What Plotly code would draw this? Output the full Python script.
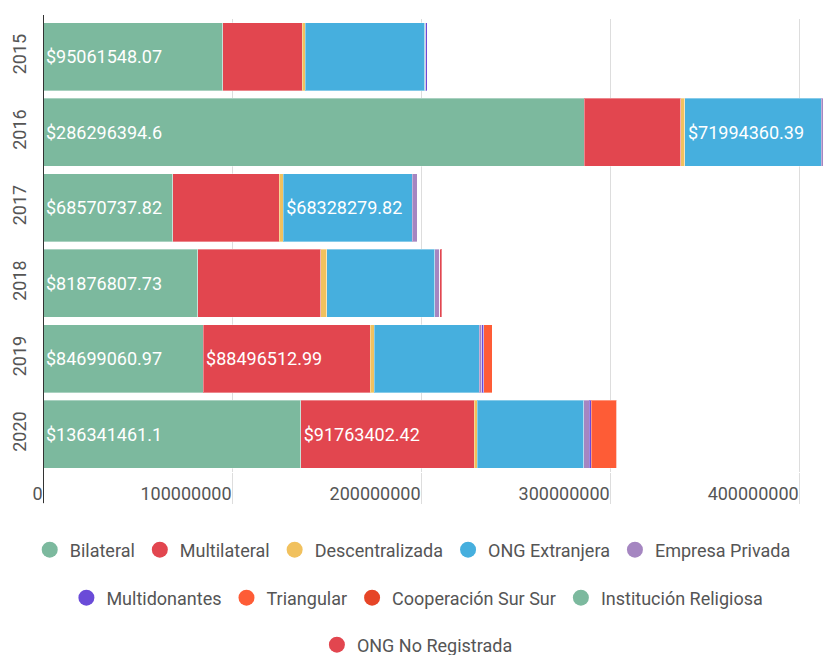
import plotly.graph_objects as go

years = ["2015", "2016", "2017", "2018", "2019", "2020"]

series_names = ["Bilateral", "Multilateral", "Descentralizada", "ONG Extranjera",
                "Empresa Privada", "Multidonantes", "Triangular",
                "Cooperación Sur Sur", "Institución Religiosa", "ONG No Registrada"]

bilateral = [95061548.07, 286296394.6, 68570737.82, 81876807.73, 84699060.97, 136341461.1]
multilateral = [42100000, 51000000, 56400000, 65100000, 88496512.99, 91763402.42]
descentralizada = [1600000, 2300000, 2100000, 3200000, 2000000, 1500000]
ong_extranjera = [63300000, 71994360.39, 68328279.82, 57100000, 55600000, 56400000]
empresa_privada = [300000, 1500000, 2600000, 2700000, 1200000, 3000000]
multidonantes = [900000, 0, 0, 0, 1100000, 900000]
triangular = [0, 0, 0, 0, 4500000, 13200000]
cooperacion_sur_sur = [0, 0, 0, 0, 0, 400000]
institucion_religiosa = [0, 0, 0, 0, 0, 0]
ong_no_registrada = [0, 0, 0, 1000000, 0, 0]

series_values = [bilateral, multilateral, descentralizada, ong_extranjera,
                 empresa_privada, multidonantes, triangular,
                 cooperacion_sur_sur, institucion_religiosa, ong_no_registrada]

colors = ["#7cb99e", "#e2464f", "#f1c15e", "#46afde", "#a586c1",
          "#6a4bd8", "#fe5c36", "#e64527", "#7cb99e", "#e2464f"]

legend_rows = ["legend", "legend", "legend", "legend", "legend",
               "legend2", "legend2", "legend2", "legend2", "legend3"]

LABEL_MIN = 66e6
x_ticks = [0, 100000000, 200000000, 300000000, 400000000]
x_max = 412.6e6

W, H = 823, 655
ML, MR, MT, MB = 43, 0, 19, 183
PH = H - MT - MB

fig = go.Figure()
for name, vals, col, lg in zip(series_names, series_values, colors, legend_rows):
    texts = [f"${v}" if v >= LABEL_MIN else "" for v in vals]
    fig.add_trace(go.Bar(
        name=name, y=years, x=vals, orientation="h",
        marker=dict(color=col, line=dict(color="rgba(255,255,255,0.35)", width=1)),
        text=texts, textposition="inside", insidetextanchor="start",
        textangle=0, constraintext="none",
        textfont=dict(family="Roboto", size=18, color="white"),
        showlegend=False, hoverinfo="skip",
    ))
    fig.add_trace(go.Scatter(
        name=name, x=[None], y=[None], mode="markers",
        marker=dict(symbol="circle", size=22, color=col),
        legend=lg, showlegend=True,
    ))

def leg(py, x=0.48):
    return dict(orientation="h", x=x, xanchor="center",
                y=(H - MB - py) / PH, yanchor="middle", traceorder="normal",
                font=dict(family="Roboto", size=18, color="#555"),
                bgcolor="rgba(0,0,0,0)", itemclick=False)

fig.update_layout(
    width=W, height=H,
    margin=dict(l=ML, r=MR, t=MT, b=MB, autoexpand=False),
    barmode="stack", bargap=0.10,
    plot_bgcolor="white", paper_bgcolor="white",
    font=dict(family="Roboto", color="#555"),
    xaxis=dict(range=[0, x_max], tickvals=x_ticks, ticktext=[str(t) for t in x_ticks],
               showgrid=True, gridcolor="#dddddd", gridwidth=1, zeroline=False,
               ticks="outside", ticklen=31, tickcolor="#dddddd", tickwidth=1,
               ticklabelposition="outside left", automargin=False,
               ticklabelstandoff=5,
               tickfont=dict(family="Roboto", size=18, color="#555"),
               showline=False, fixedrange=True),
    yaxis=dict(type="category", autorange="reversed", showgrid=False,
               tickangle=-90, tickfont=dict(family="Roboto", size=18, color="#555"),
               ticks="", showline=False, zeroline=False, ticklabelstandoff=12,
               automargin=False),
    legend=leg(550, 0.474), legend2=leg(598), legend3=leg(645),
    shapes=[dict(type="line", xref="x", yref="paper", x0=0, x1=0,
                 y0=-31 / PH, y1=1 + 4 / PH, line=dict(color="#333", width=2),
                 layer="above")],
)

fig.write_html("out.html", config={"displayModeBar": False},
               post_script="document.body.style.margin='0';")
